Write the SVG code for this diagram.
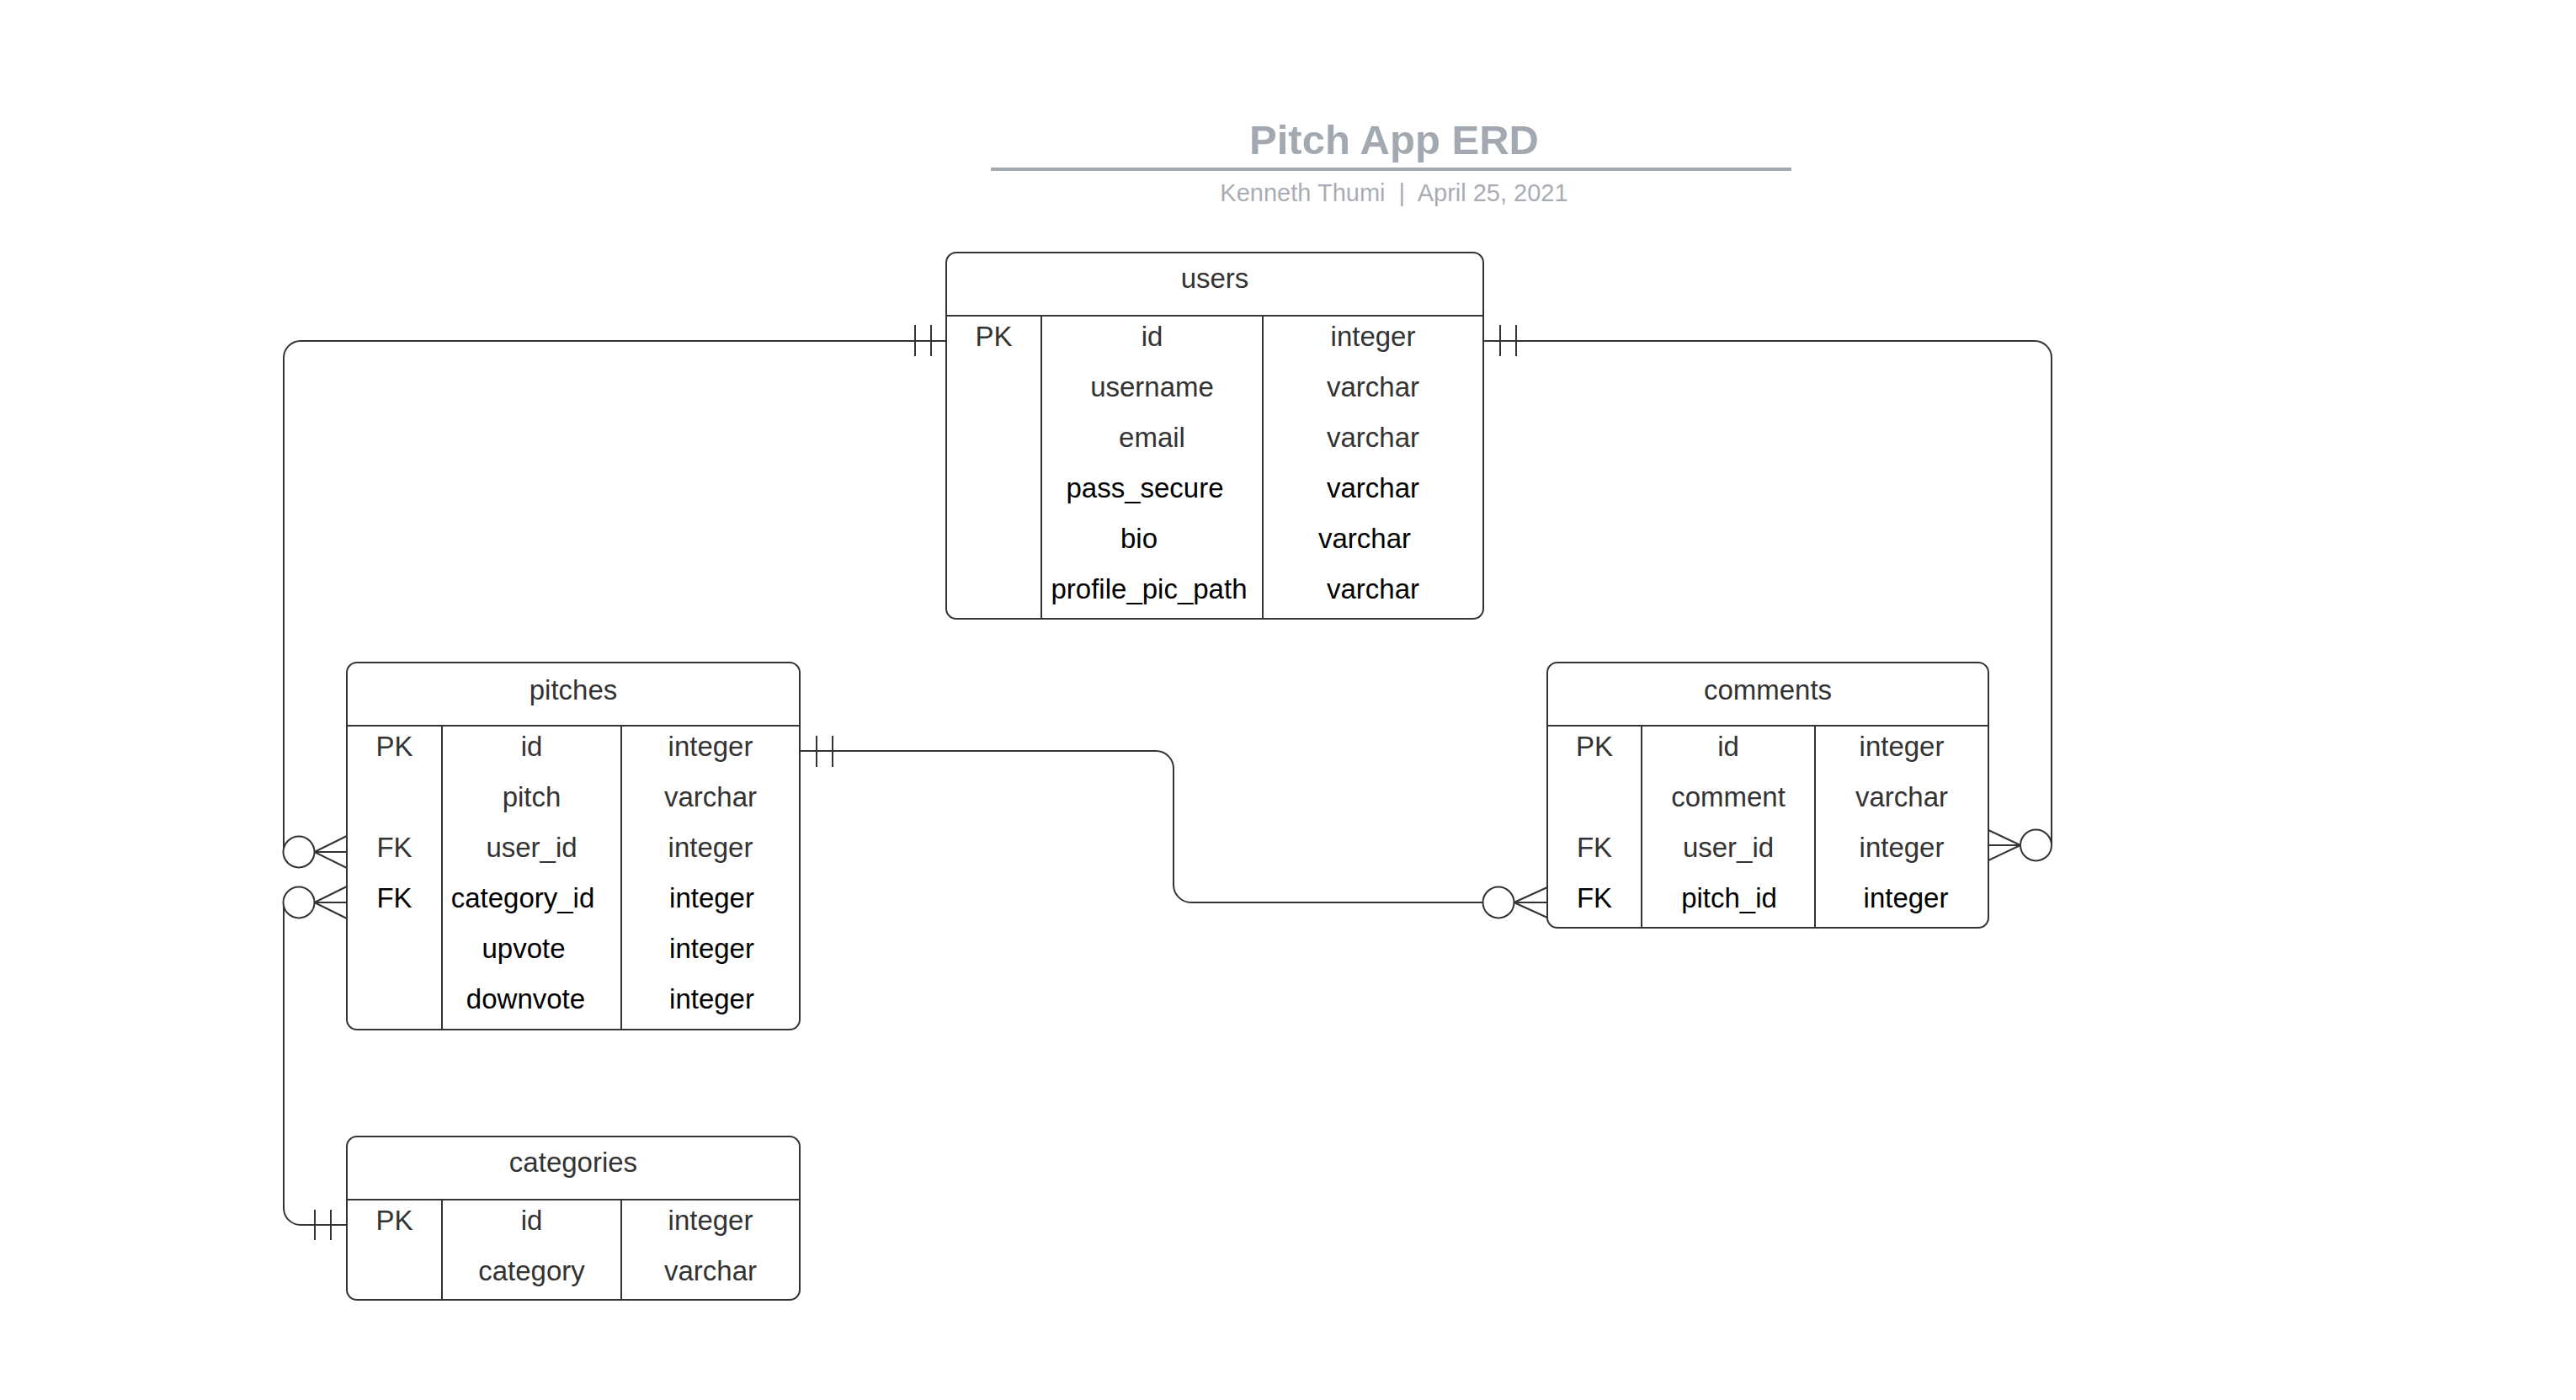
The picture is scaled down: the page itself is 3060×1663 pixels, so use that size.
<svg xmlns="http://www.w3.org/2000/svg" width="3060" height="1663" viewBox="0 0 3060 1663">
<style>
  .box { fill: #ffffff; stroke: #333333; stroke-width: 2; }
  .div { stroke: #333333; stroke-width: 2; fill: none; }
  .t { font-family: "Liberation Sans", Arial, sans-serif; font-size: 33px; text-anchor: middle; fill: #333333; }
  .k { fill: #000000; }
  .conn { fill: none; stroke: #333333; stroke-width: 2; }
  .circ { fill: #ffffff; stroke: #333333; stroke-width: 2; }
  .title { font-family: "Liberation Sans", Arial, sans-serif; font-size: 49px; font-weight: bold; text-anchor: middle; fill: #a3a9b1; }
  .sub { font-family: "Liberation Sans", Arial, sans-serif; font-size: 29px; text-anchor: middle; fill: #a9adb3; }
</style>
<rect width="3060" height="1663" fill="#ffffff"/>

<g id="title">
  <text class="title" x="1656" y="183">Pitch App ERD</text>
  <line x1="1177" y1="201" x2="2128" y2="201" stroke="#a3a9b1" stroke-width="4"/>
  <text class="sub" x="1656" y="239" xml:space="preserve">Kenneth Thumi  |  April 25, 2021</text>
</g>

<g id="connectors">
  <!-- users -> pitches.user_id -->
  <path class="conn" d="M1124,405 H357 A20,20 0 0 0 337,425 V1012"/>
  <path class="conn" d="M1087,386 V423 M1106,386 V423"/>
  <path class="conn" d="M373.5,1012 L412,993 M373.5,1012 L412,1031 M373.5,1012 H412"/>
  <circle class="circ" cx="355" cy="1012" r="18.5"/>
  <!-- categories -> pitches.category_id -->
  <path class="conn" d="M412,1455 H357 A20,20 0 0 1 337,1435 V1072"/>
  <path class="conn" d="M374,1437 V1473 M393,1437 V1473"/>
  <path class="conn" d="M373.5,1072 L412,1053 M373.5,1072 L412,1091 M373.5,1072 H412"/>
  <circle class="circ" cx="355" cy="1072" r="18.5"/>
  <!-- users -> comments.user_id -->
  <path class="conn" d="M1762,405 H2417 A20,20 0 0 1 2437,425 V1004"/>
  <path class="conn" d="M1782,386 V423 M1801,386 V423"/>
  <path class="conn" d="M2400,1004 L2362,986 M2400,1004 L2362,1022 M2400,1004 H2362"/>
  <circle class="circ" cx="2418.5" cy="1004" r="18.5"/>
  <!-- pitches -> comments.pitch_id -->
  <path class="conn" d="M950,892 H1373 A21,21 0 0 1 1394,913 V1051 A21,21 0 0 0 1415,1072 H1762"/>
  <path class="conn" d="M970,874 V911 M989,874 V911"/>
  <path class="conn" d="M1798.5,1072 L1838,1054 M1798.5,1072 L1838,1090 M1798.5,1072 H1838"/>
  <circle class="circ" cx="1780" cy="1072" r="18.5"/>
</g>

<g id="users">
  <rect class="box" x="1124" y="300" width="638" height="435" rx="12"/>
  <path class="div" d="M1124,375 H1762 M1237,375 V735 M1500,375 V735"/>
  <text class="t" x="1443" y="342">users</text>
  <text class="t" x="1180.5" y="411">PK</text>
  <text class="t" x="1368.5" y="411">id</text>
  <text class="t" x="1631" y="411">integer</text>
  <text class="t" x="1368.5" y="471">username</text>
  <text class="t" x="1631" y="471">varchar</text>
  <text class="t" x="1368.5" y="531">email</text>
  <text class="t" x="1631" y="531">varchar</text>
  <text class="t k" x="1360" y="591">pass_secure</text>
  <text class="t k" x="1631" y="591">varchar</text>
  <text class="t k" x="1353" y="651">bio</text>
  <text class="t k" x="1621" y="651">varchar</text>
  <text class="t k" x="1365" y="711">profile_pic_path</text>
  <text class="t k" x="1631" y="711">varchar</text>
</g>

<g id="pitches">
  <rect class="box" x="412" y="787" width="538" height="436" rx="12"/>
  <path class="div" d="M412,862 H950 M525,862 V1223 M738,862 V1223"/>
  <text class="t" x="681" y="831">pitches</text>
  <text class="t" x="468.5" y="898">PK</text>
  <text class="t" x="631.5" y="898">id</text>
  <text class="t" x="844" y="898">integer</text>
  <text class="t" x="631.5" y="958">pitch</text>
  <text class="t" x="844" y="958">varchar</text>
  <text class="t" x="468.5" y="1018">FK</text>
  <text class="t" x="631.5" y="1018">user_id</text>
  <text class="t" x="844" y="1018">integer</text>
  <text class="t k" x="468.5" y="1078">FK</text>
  <text class="t k" x="621" y="1078">category_id</text>
  <text class="t k" x="845.5" y="1078">integer</text>
  <text class="t k" x="622" y="1138">upvote</text>
  <text class="t k" x="845.5" y="1138">integer</text>
  <text class="t k" x="624.5" y="1198">downvote</text>
  <text class="t k" x="845.5" y="1198">integer</text>
</g>

<g id="comments">
  <rect class="box" x="1838" y="787" width="524" height="315" rx="12"/>
  <path class="div" d="M1838,862 H2362 M1950,862 V1102 M2156,862 V1102"/>
  <text class="t" x="2100" y="831">comments</text>
  <text class="t" x="1894" y="898">PK</text>
  <text class="t" x="2053" y="898">id</text>
  <text class="t" x="2259" y="898">integer</text>
  <text class="t" x="2053" y="958">comment</text>
  <text class="t" x="2259" y="958">varchar</text>
  <text class="t" x="1894" y="1018">FK</text>
  <text class="t" x="2053" y="1018">user_id</text>
  <text class="t" x="2259" y="1018">integer</text>
  <text class="t k" x="1894" y="1078">FK</text>
  <text class="t k" x="2054" y="1078">pitch_id</text>
  <text class="t k" x="2264" y="1078">integer</text>
</g>

<g id="categories">
  <rect class="box" x="412" y="1350" width="538" height="194" rx="12"/>
  <path class="div" d="M412,1425 H950 M525,1425 V1544 M738,1425 V1544"/>
  <text class="t" x="681" y="1392">categories</text>
  <text class="t" x="468.5" y="1461">PK</text>
  <text class="t" x="631.5" y="1461">id</text>
  <text class="t" x="844" y="1461">integer</text>
  <text class="t" x="631.5" y="1521">category</text>
  <text class="t" x="844" y="1521">varchar</text>
</g>
</svg>
